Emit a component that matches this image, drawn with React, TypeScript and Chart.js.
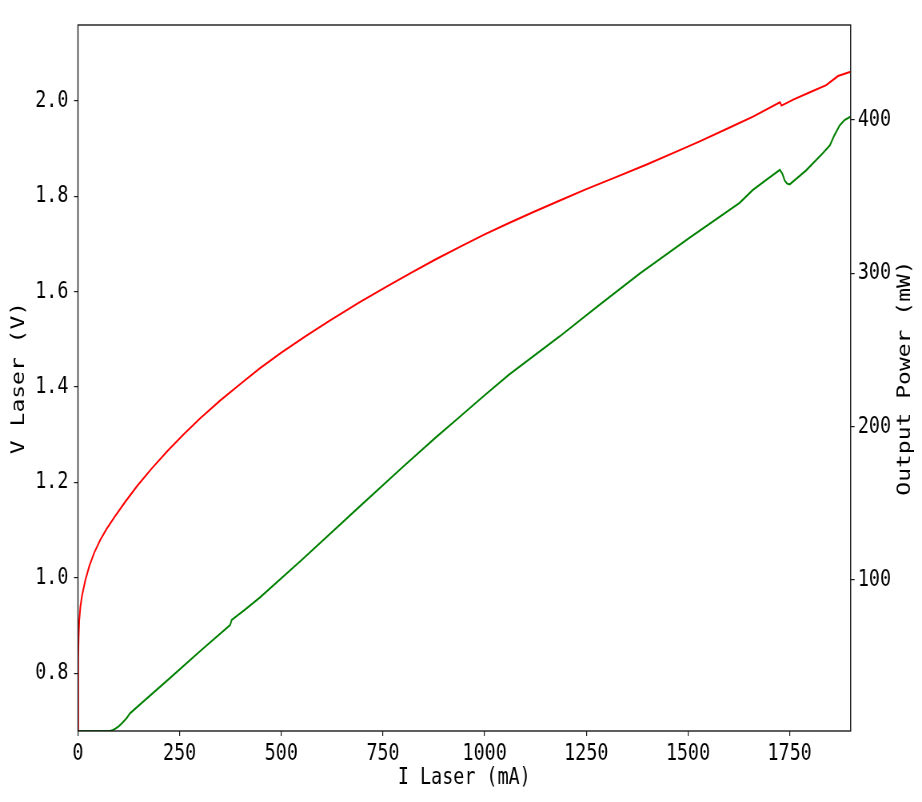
import React, { useEffect, useRef } from "react";
import { Chart, registerables } from "chart.js";

Chart.register(...registerables);

// ---- data ----
const currentV = [0, 0.5, 1.5, 3, 6, 10, 18, 28, 40, 55, 70, 90, 115, 145, 180, 220, 260, 300, 350, 400, 447, 500, 560, 620, 693, 760, 820, 880, 939, 1000, 1060, 1120, 1185, 1250, 1320, 1400, 1470, 1529, 1600, 1660, 1726, 1730, 1760, 1800, 1840, 1869, 1900];
const voltage = [0.679, 0.83, 0.875, 0.91, 0.94, 0.963, 0.995, 1.025, 1.053, 1.08, 1.102, 1.128, 1.158, 1.192, 1.228, 1.266, 1.301, 1.334, 1.372, 1.407, 1.439, 1.472, 1.507, 1.54, 1.578, 1.611, 1.64, 1.668, 1.694, 1.72, 1.744, 1.767, 1.791, 1.815, 1.839, 1.867, 1.893, 1.915, 1.943, 1.967, 1.997, 1.99, 2.003, 2.018, 2.033, 2.052, 2.061];

const currentP = [0, 78, 85, 92, 100, 110, 120, 124, 128, 150, 226, 300, 374, 378, 410, 447, 550, 693, 800, 880, 939, 1000, 1060, 1185, 1280, 1382, 1500, 1627, 1659, 1690, 1726, 1732, 1738, 1744, 1750, 1758, 1790, 1832, 1849, 1860, 1873, 1885, 1898, 1900];
const power = [1.5, 1.5, 2, 3, 4.5, 7, 10, 11.5, 13, 18.2, 36, 53.5, 70.6, 74, 80.5, 88.5, 113, 148, 174, 193, 206.5, 220.5, 234, 259, 279, 300, 322.5, 346, 354.3, 360.5, 367.5, 365, 360.5, 358.5, 358, 359.8, 367, 378.5, 383.5, 390, 396.5, 400, 402, 402];

const xMin = 0;
const xMax = 1900;
const xStep = 250;
const vMin = 0.679;
const vMax = 2.159;
const vStep = 0.2;
const pMin = 1.5;
const pMax = 462;
const pStep = 100;

const xTitle = "I Laser (mA)";
const vTitle = "V Laser (V)";
const pTitle = "Output Power (mW)";

// ---- layout (horizontal squeeze like the reference) ----
const CSS_W = 906;
const CSS_H = 786;
const SQUEEZE = 0.8;
const INT_W = Math.round(CSS_W / SQUEEZE);
const FONT = "'DejaVu Sans Mono', 'Liberation Mono', monospace";

const framePlugin = {
  id: "frameAndRightTitle",
  afterDraw(chart: any) {
    const { ctx, chartArea } = chart;
    const { left, top, right, bottom } = chartArea;
    ctx.save();
    ctx.strokeStyle = "#1a1a1a";
    ctx.lineWidth = 1.4;
    ctx.strokeRect(left, top, right - left, bottom - top);
    ctx.translate(chart.width - 11, (top + bottom) / 2);
    ctx.rotate(-Math.PI / 2);
    ctx.textAlign = "center";
    ctx.textBaseline = "middle";
    ctx.fillStyle = "#000";
    ctx.font = `23px ${FONT}`;
    ctx.fillText(pTitle, 0, 0);
    ctx.restore();
  },
};

function zeroPad(scale: any) {
  scale.paddingTop = 0;
  scale.paddingBottom = 0;
  scale.paddingLeft = 0;
  scale.paddingRight = 0;
}

export default function App() {
  const ref = useRef<HTMLCanvasElement | null>(null);

  useEffect(() => {
    if (!ref.current) return;
    const vData = currentV.map((x, i) => ({ x, y: voltage[i] }));
    const pData = currentP.map((x, i) => ({ x, y: power[i] }));
    const tickFont = { family: FONT, size: 23 };
    const gridCommon = {
      drawOnChartArea: false,
      drawTicks: true,
      tickLength: 5,
      tickColor: "#1a1a1a",
      lineWidth: 1.2,
    };
    const chart = new Chart(ref.current, {
      type: "line",
      data: {
        datasets: [
          {
            label: "V",
            data: vData,
            yAxisID: "y",
            borderColor: "#ff0000",
            borderWidth: 2,
            pointRadius: 0,
            tension: 0,
            fill: false,
          },
          {
            label: "P",
            data: pData,
            yAxisID: "y1",
            borderColor: "#008000",
            borderWidth: 2,
            pointRadius: 0,
            tension: 0,
            fill: false,
          },
        ],
      },
      options: {
        animation: false,
        responsive: false,
        maintainAspectRatio: false,
        devicePixelRatio: 1,
        layout: { padding: { top: 17, left: 0, right: 0, bottom: 0 } },
        plugins: {
          legend: { display: false },
          tooltip: { enabled: false },
        },
        scales: {
          x: {
            type: "linear",
            position: "bottom",
            min: xMin,
            max: xMax,
            border: { display: false },
            grid: gridCommon,
            ticks: {
              stepSize: xStep,
              includeBounds: false,
              color: "#000",
              font: tickFont,
              padding: 4,
              maxRotation: 0,
              callback: (v: any) => String(v),
            },
            title: {
              display: true,
              text: xTitle,
              color: "#000",
              font: { family: FONT, size: 23 },
              padding: { top: 0, bottom: 2 },
            },
            afterFit: (s: any) => {
              s.height = 63;
              zeroPad(s);
            },
          },
          y: {
            type: "linear",
            position: "left",
            min: vMin,
            max: vMax,
            border: { display: false },
            grid: gridCommon,
            ticks: {
              stepSize: vStep,
              includeBounds: false,
              color: "#000",
              font: tickFont,
              padding: 7,
              callback: (v: any) => Number(v).toFixed(1),
            },
            title: {
              display: true,
              text: vTitle,
              color: "#000",
              font: { family: FONT, size: 23 },
              padding: { top: 0, bottom: 0 },
            },
            afterFit: (s: any) => {
              s.width = 87.5;
              zeroPad(s);
            },
          },
          y1: {
            type: "linear",
            position: "right",
            min: pMin,
            max: pMax,
            border: { display: false },
            grid: gridCommon,
            ticks: {
              stepSize: pStep,
              includeBounds: false,
              color: "#000",
              font: tickFont,
              padding: 4,
              callback: (v: any) => String(v),
            },
            afterFit: (s: any) => {
              s.width = INT_W - 1053.75;
              zeroPad(s);
            },
          },
        },
      },
      plugins: [framePlugin],
    });
    return () => chart.destroy();
  }, []);

  return (
    <div style={{ width: CSS_W, height: CSS_H }}>
      <canvas
        ref={ref}
        width={INT_W}
        height={CSS_H}
        style={{ width: CSS_W + "px", height: CSS_H + "px", display: "block" }}
      />
    </div>
  );
}
